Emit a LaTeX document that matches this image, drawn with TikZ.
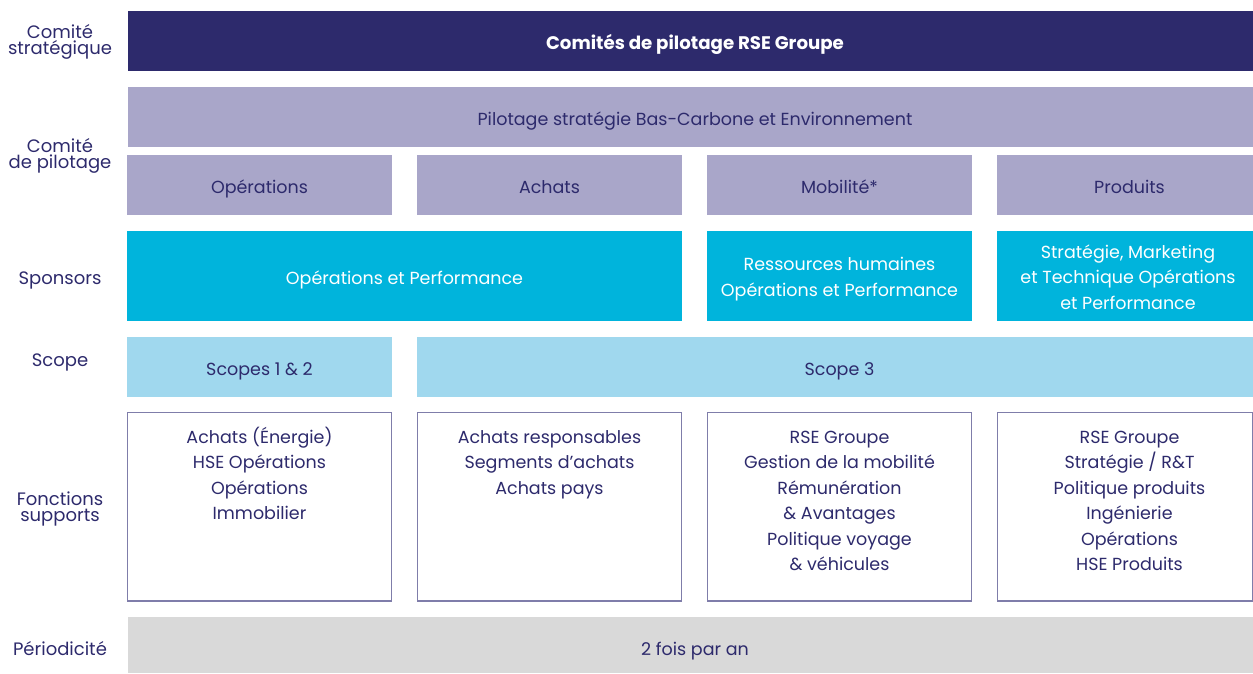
\documentclass[tikz,border=0pt]{standalone}
\usepackage{fontspec}
\setmainfont{Poppins}
\definecolor{navy}{HTML}{2D2A6C}
\definecolor{lilac}{HTML}{A9A6C9}
\definecolor{cyanbox}{HTML}{00B4DC}
\definecolor{skyb}{HTML}{A0D8EE}
\definecolor{greyb}{HTML}{D9D9D9}
\definecolor{edgec}{HTML}{7F7DAA}
\newcommand{\topstrut}{\rule{0pt}{18pt}}
\begin{document}
\begin{tikzpicture}[x=1pt,y=-1pt,
  every node/.style={inner sep=0pt, outer sep=0pt},
  txt/.style={font=\fontsize{17.5}{25.5}\selectfont, text=navy, align=center},
  lab/.style={font=\fontsize{18}{16}\selectfont, text=navy, align=center},
]
\useasboundingbox (0,0) rectangle (1253,673);
% row 1
\fill[navy] (128,11) rectangle (1253,71);
\node[font=\fontsize{18.2}{20}\selectfont\bfseries, text=white, anchor=base] (t1) at (695,49) {Comités de pilotage RSE Groupe};
% row 2
\fill[lilac] (128,87) rectangle (1253,147);
\node[txt, anchor=base] (t2) at (695,125) {Pilotage stratégie Bas-Carbone et Environnement};
\fill[lilac] (127,155) rectangle (392,215);
\fill[lilac] (417,155) rectangle (682,215);
\fill[lilac] (707,155) rectangle (972,215);
\fill[lilac] (997,155) rectangle (1253,215);
\node[txt, anchor=base] (c1) at (259.5,193) {Opérations};
\node[txt, anchor=base] (c2) at (549.5,193) {Achats};
\node[txt, anchor=base] (c3) at (839.5,193) {Mobilité*};
\node[txt, anchor=base] (c4) at (1129.5,193) {Produits};
% sponsors
\fill[cyanbox] (127,231) rectangle (682,321);
\fill[cyanbox] (707,231) rectangle (972,321);
\fill[cyanbox] (997,231) rectangle (1253,321);
\node[txt, text=white, anchor=base] (s1) at (404.5,284.5) {Opérations et Performance};
\node[txt, text=white] (s2) at (839.5,279) {Ressources humaines\\Opérations et Performance};
\node[txt, text=white] (s3) at (1128,277) {Stratégie, Marketing\\et Technique Opérations\\et Performance};
% scope
\fill[skyb] (127,337) rectangle (392,397);
\fill[skyb] (417,337) rectangle (1253,397);
\node[txt, anchor=base] (sc1) at (259.5,375) {Scopes 1 \& 2};
\node[txt, anchor=base] (sc2) at (839.5,375) {Scope 3};
% fonctions
\draw[edgec, line width=1.2pt] (127.5,412.5) rectangle (391.5,601);
\draw[edgec, line width=1.2pt] (417.5,412.5) rectangle (681.5,601);
\draw[edgec, line width=1.2pt] (707.5,412.5) rectangle (971.5,601);
\draw[edgec, line width=1.2pt] (997.5,412.5) rectangle (1252.4,601);
\node[txt, anchor=north] (f1) at (259.5,425) {\topstrut Achats (Énergie)\\HSE Opérations\\Opérations\\Immobilier};
\node[txt, anchor=north] (f2) at (549.5,425) {\topstrut Achats responsables\\Segments d’achats\\Achats pays};
\node[txt, anchor=north] (f3) at (839.5,425) {\topstrut RSE Groupe\\Gestion de la mobilité\\Rémunération\\\& Avantages\\Politique voyage\\\& véhicules};
\node[txt, anchor=north] (f4) at (1129.5,425) {\topstrut RSE Groupe\\Stratégie / R\&T\\Politique produits\\Ingénierie\\Opérations\\HSE Produits};
% periodicite
\fill[greyb] (128,617) rectangle (1253,673);
\node[txt, anchor=base] (p) at (695,655) {2 fois par an};
% labels
\node[lab] (l1) at (60,42) {Comité\\stratégique};
\node[lab] (l2) at (60,156) {Comité\\de pilotage};
\node[lab, anchor=base] (l3) at (60,284) {Sponsors};
\node[lab, anchor=base] (l4) at (60,366) {Scope};
\node[lab] (l5) at (60,509) {Fonctions\\supports};
\node[lab, anchor=base] (l6) at (60,655) {Périodicité};
\end{tikzpicture}
\end{document}
